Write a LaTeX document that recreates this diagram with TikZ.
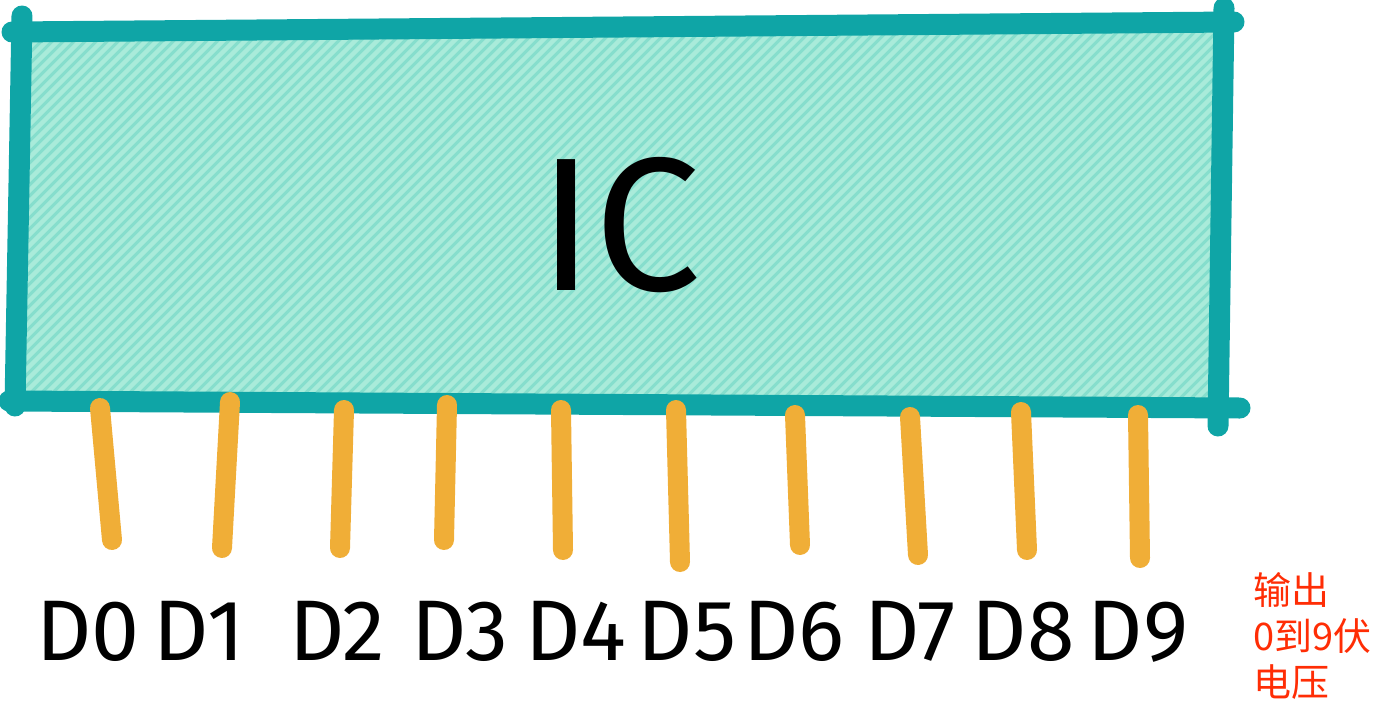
\documentclass[tikz,border=0pt]{standalone}
\usepackage{fontspec}
\setmainfont{Fira Sans}
\newfontfamily\cjk{Noto Sans CJK SC}
\usetikzlibrary{positioning}

\definecolor{chipedge}{HTML}{0FA5A6}
\definecolor{chipfill}{HTML}{86DECD}
\definecolor{chiphatch}{HTML}{A9EBDA}
\definecolor{pinorange}{HTML}{F0AE37}
\definecolor{notered}{HTML}{FF2D05}

\tikzset{
  edge/.style={line width=21pt, chipedge, line cap=round},
  pinline/.style={line width=20pt, pinorange, line cap=round},
  pinlabel/.style={font=\fontsize{86}{90}\selectfont, inner sep=0pt, anchor=base},
}

\begin{document}
\begin{tikzpicture}[x=1pt,y=-1pt]
\useasboundingbox (0,0) rectangle (1400,718);
% chip body with hatching
\coordinate (tl) at (22,34);
\coordinate (tr) at (1222,26);
\coordinate (br) at (1219,403);
\coordinate (bl) at (16,399);
\fill[chipfill] (tl) -- (tr) -- (br) -- (bl) -- cycle;
\begin{scope}
  \clip (tl) -- (tr) -- (br) -- (bl) -- cycle;
  \foreach \i in {0,11,...,1660}
    \draw[chiphatch, line width=4.5pt] (\i,0) -- ++(-430,430);
\end{scope}
% outline, sketchy ends
\draw[edge] (12,32) -- (1234,22);
\draw[edge] (1224,8) -- (1218,426);
\draw[edge] (9,401) -- (1240,408);
\draw[edge] (22,16) -- (15,406);
\node[font=\fontsize{190}{190}\selectfont, inner sep=0pt] (ic) at (620,225) {IC};
% pins and their labels
\foreach \n/\tx/\ty/\bx/\by/\lx in {0/100/408/112/540/88, 1/230/402/222/548/199,
    2/344/410/340/548/337, 3/447/405/444/540/460, 4/561/410/563/550/576,
    5/676/410/680/562/687, 6/795/415/800/545/794, 7/910/417/918/555/910,
    8/1021/412/1027/550/1023, 9/1138/415/1140/558/1138} {
  \coordinate (top\n) at (\tx,\ty);
  \coordinate (end\n) at (\bx,\by);
  \draw[pinline] (top\n) -- (end\n);
  \node[pinlabel] (D\n) at (\lx,660) {D\n};
}
\node[anchor=north west, align=left, inner sep=0pt, text=notered,
  font=\cjk\fontsize{38}{46}\selectfont] (note) at (1253,572) {输出\\0到9伏\\电压};
\end{tikzpicture}
\end{document}
